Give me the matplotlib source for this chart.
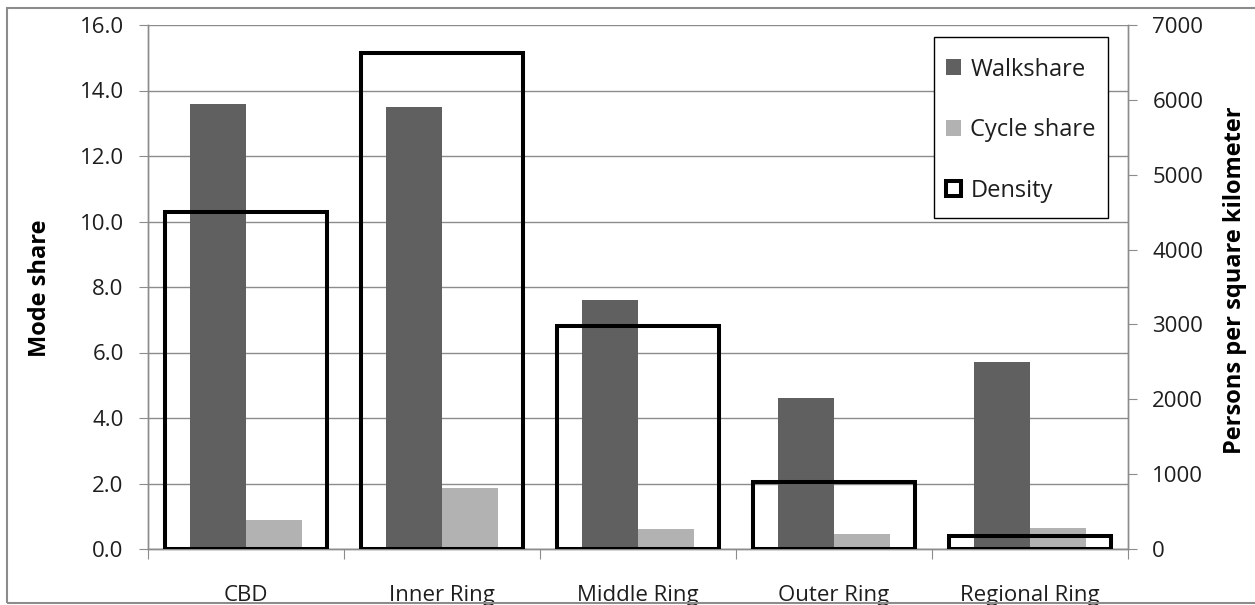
import matplotlib
matplotlib.use("Agg")
import matplotlib.pyplot as plt
import numpy as np
from matplotlib.patches import Patch, Rectangle
from matplotlib.ticker import FormatStrFormatter, MultipleLocator

# Data
rings = ["CBD", "Inner Ring", "Middle Ring", "Outer Ring", "Regional Ring"]
walk_share = [13.6, 13.5, 7.6, 4.6, 5.7]
cycle_share = [0.9, 1.85, 0.6, 0.45, 0.65]
density = [4500, 6620, 2980, 900, 170]

plt.rcParams["font.family"] = ["Open Sans", "DejaVu Sans"]

W, H = 1255, 605
fig = plt.figure(figsize=(W / 100, H / 100), dpi=100)
ax = fig.add_axes([148 / W, 1 - 549 / H, 980 / W, 524 / H])
ax2 = ax.twinx()

x = np.arange(len(rings))
bw = 0.286
grid_col = "#8c8c8c"
walk_col = "#606060"
cycle_col = "#b2b2b2"
text_col = "#1e1e1e"

ax.bar(x - bw / 2, walk_share, width=bw, color=walk_col, zorder=2)
ax.bar(x + bw / 2, cycle_share, width=bw, color=cycle_col, zorder=2)
ax2.bar(x, density, width=0.83, fill=False, edgecolor="black", linewidth=2.9,
        joinstyle="miter", zorder=3)

ax.set_xlim(-0.5, len(rings) - 0.5)
ax.set_ylim(0, 16)
ax2.set_ylim(0, 7000)

ax.yaxis.set_major_locator(MultipleLocator(2))
ax.yaxis.set_major_formatter(FormatStrFormatter("%.1f"))
ax2.yaxis.set_major_locator(MultipleLocator(1000))
ax.grid(axis="y", color=grid_col, linewidth=1.0, zorder=0)
ax.set_axisbelow(True)

# Category boundaries carry the x ticks; labels sit at category centres
ax.set_xticks(np.arange(-0.5, len(rings), 1.0))
ax.set_xticklabels([])
ax.set_xticks(x, minor=True)
ax.set_xticklabels(rings, minor=True, fontsize=16, color=text_col)
ax.tick_params(axis="x", which="minor", length=0, pad=26)
ax.tick_params(axis="x", which="major", length=7, color=grid_col, direction="out")

ax.tick_params(axis="y", length=6.5, color=grid_col, labelsize=16, labelcolor=text_col, pad=11)
ax2.tick_params(axis="y", length=6.5, color=grid_col, labelsize=16, labelcolor=text_col, pad=11)

for a in (ax, ax2):
    a.spines["top"].set_visible(False)
    for side in ("left", "right", "bottom"):
        a.spines[side].set_color(grid_col)
        a.spines[side].set_linewidth(1.0)

fig.text(40 / W, 1 - 288 / H, "Mode share", rotation=90, ha="center", va="center",
         fontsize=17, fontweight="bold", color="black")
fig.text(1235 / W, 1 - 280 / H, "Persons per square kilometer", rotation=90, ha="center",
         va="center", fontsize=17, fontweight="bold", color="black")

# Legend entries without their own frame; a separate box is drawn behind them
handles = [
    Patch(facecolor=walk_col, edgecolor="none", label="Walkshare"),
    Patch(facecolor=cycle_col, edgecolor="none", label="Cycle share"),
    Patch(facecolor="white", edgecolor="black", linewidth=2.9, label="Density"),
]
legend_box = Rectangle((934 / W, 1 - 218 / H), 174 / W, 181 / H, transform=fig.transFigure,
                       facecolor="white", edgecolor="black", linewidth=1.0, zorder=4,
                       clip_on=False)
ax2.add_artist(legend_box)
leg = ax2.legend(handles=handles, loc="upper left", bbox_to_anchor=(935 / W, 1 - 47 / H),
                 bbox_transform=fig.transFigure, fontsize=17, frameon=False,
                 handlelength=0.65, handleheight=0.65, handletextpad=0.4,
                 labelspacing=1.55, borderpad=0.45, borderaxespad=0)
leg.set_zorder(6)
for t in leg.get_texts():
    t.set_color(text_col)

# Outer chart frame
fig.patches.append(Rectangle((7 / W, 2 / H), 1.0, 1 - 10 / H, transform=fig.transFigure,
                             fill=False, edgecolor=grid_col, linewidth=1.5, zorder=5))

fig.savefig("out.png", dpi=100)
